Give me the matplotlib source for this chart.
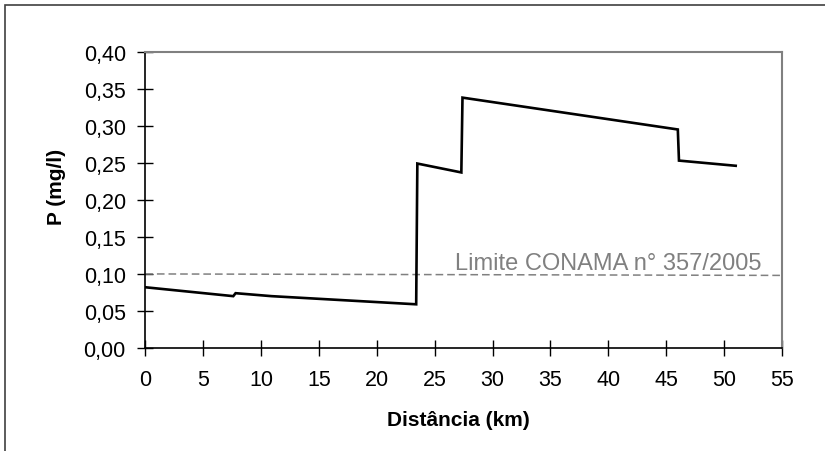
import matplotlib
matplotlib.use("Agg")
import matplotlib.pyplot as plt
from matplotlib.patches import Rectangle

# perfil de fosforo ao longo do rio
dist_km = [0, 7.6, 7.8, 10.9, 23.4, 23.5, 27.3, 27.4, 46.0, 46.1, 51.0]
p_mgl = [0.082, 0.070, 0.074, 0.070, 0.059, 0.249, 0.237, 0.338, 0.295, 0.253, 0.246]

limite_x = [0, 55]
limite_y = [0.100, 0.098]
limite_txt = "Limite CONAMA n° 357/2005"

x_ticks = [0, 5, 10, 15, 20, 25, 30, 35, 40, 45, 50, 55]
y_ticks = [0.00, 0.05, 0.10, 0.15, 0.20, 0.25, 0.30, 0.35, 0.40]
y_labels = ["0,00", "0,05", "0,10", "0,15", "0,20", "0,25", "0,30", "0,35", "0,40"]

plt.rcParams["font.family"] = ["Liberation Sans", "DejaVu Sans"]

W, H = 825, 452
fig = plt.figure(figsize=(W / 100, H / 100), dpi=100)
ax = fig.add_axes([145.3 / W, 1 - 349 / H, (782 - 145.3) / W, (349 - 52.7) / H])

ax.plot(limite_x, limite_y, color="#808080", lw=1.1, dashes=(5, 2.6))
ax.plot(dist_km, p_mgl, color="black", lw=1.9, solid_joinstyle="miter")
ax.text(53.2, 0.1065, limite_txt, ha="right", va="baseline", fontsize=17, color="#808080")

ax.set_xlim(0, 55)
ax.set_ylim(0, 0.40)
ax.set_xticks(x_ticks)
ax.set_yticks(y_ticks, y_labels)
ax.tick_params(direction="inout", length=12, width=1, colors="black", labelsize=15.5)
ax.tick_params(axis="x", pad=9)
ax.tick_params(axis="y", pad=8)

for s in ["top", "right"]:
    ax.spines[s].set_color("#808080")
    ax.spines[s].set_linewidth(1.5)
for s in ["left", "bottom"]:
    ax.spines[s].set_color("black")
    ax.spines[s].set_linewidth(1.2)

fig.text(458 / W, 1 - 421 / H, "Distância (km)", ha="center", va="center",
         fontsize=15, fontweight="bold")
fig.text(57 / W, 1 - 187 / H, "P (mg/l)", ha="center", va="center", rotation=90,
         fontsize=15, fontweight="bold")

# moldura do grafico
fig.patches.append(Rectangle((4.5 / W, -0.05), 1.0, 1.05 - 5.5 / H, transform=fig.transFigure,
                             fill=False, edgecolor="#404040", lw=1.2))

fig.savefig("out.png", dpi=100)
